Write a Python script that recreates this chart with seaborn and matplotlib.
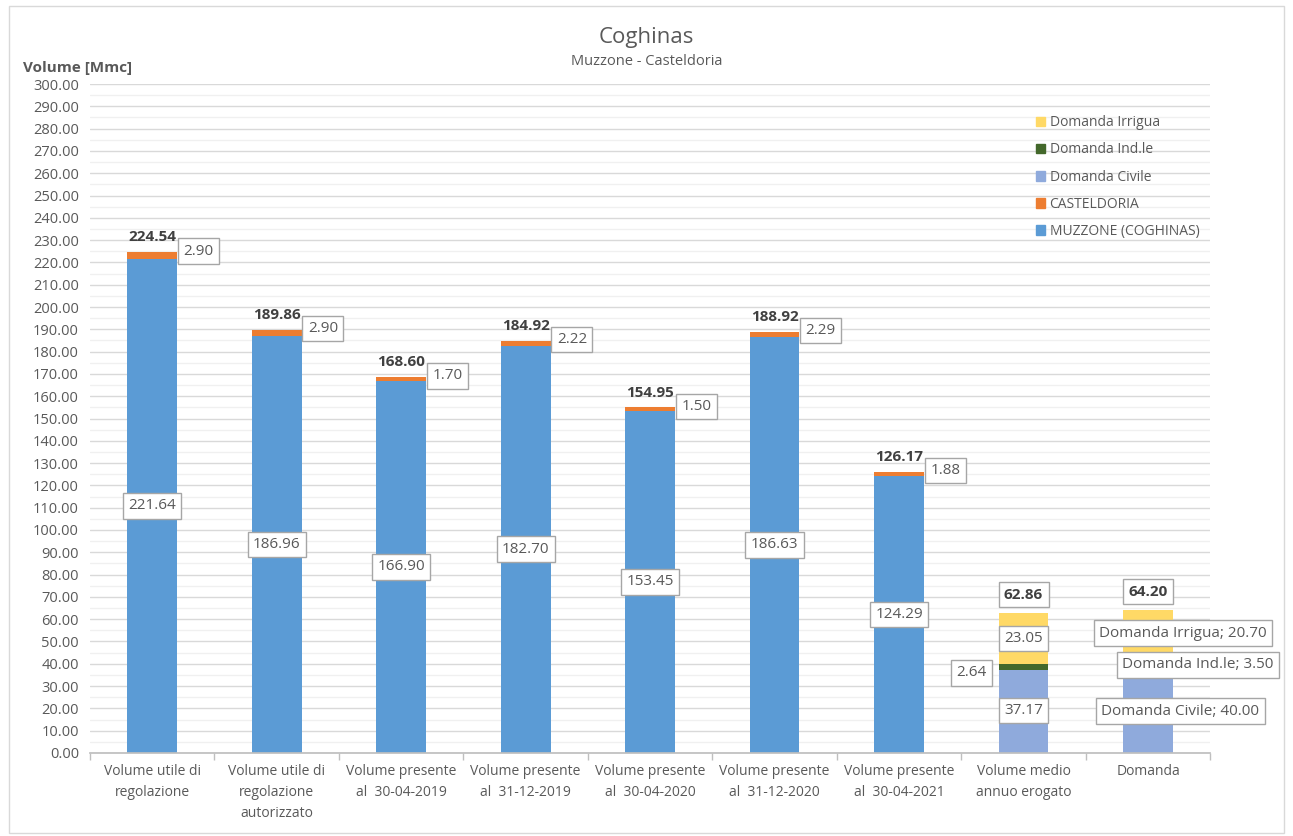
import matplotlib
matplotlib.use("Agg")
import matplotlib.pyplot as plt
import seaborn as sns
import numpy as np
import pandas as pd
from matplotlib.patches import Patch

categories = ["Volume utile di\nregolazione", "Volume utile di\nregolazione\nautorizzato",
              "Volume presente\nal  30-04-2019", "Volume presente\nal  31-12-2019",
              "Volume presente\nal  30-04-2020", "Volume presente\nal  31-12-2020",
              "Volume presente\nal  30-04-2021", "Volume medio\nannuo erogato", "Domanda"]
muzzone = [221.64, 186.96, 166.90, 182.70, 153.45, 186.63, 124.29, 0, 0]
casteldoria = [2.90, 2.90, 1.70, 2.22, 1.50, 2.29, 1.88, 0, 0]
civile = [0, 0, 0, 0, 0, 0, 0, 37.17, 40.00]
industriale = [0, 0, 0, 0, 0, 0, 0, 2.64, 3.50]
irrigua = [0, 0, 0, 0, 0, 0, 0, 23.05, 20.70]
totals = [224.54, 189.86, 168.60, 184.92, 154.95, 188.92, 126.17, 62.86, 64.20]

sns.set_theme(style="white")
plt.rcParams['font.family'] = ['Open Sans', 'DejaVu Sans']
grey = "#595959"

fig = plt.figure(figsize=(12.93, 8.36), dpi=100)
ax = fig.add_axes([0.0696, 0.0993, 0.8664, 0.8002])

c_muz = "#5B9BD5"; c_cas = "#ED7D31"; c_civ = "#8FAADC"; c_ind = "#43682B"; c_irr = "#FFD966"
series = [("MUZZONE (COGHINAS)", muzzone, c_muz), ("CASTELDORIA", casteldoria, c_cas),
          ("Domanda Civile", civile, c_civ), ("Domanda Ind.le", industriale, c_ind),
          ("Domanda Irrigua", irrigua, c_irr)]
bottom = np.zeros(len(categories))
for name, vals, col in series:
    df = pd.DataFrame({"cat": categories, "v": vals})
    sns.barplot(data=df, x="cat", y="v", color=col, bottom=bottom, width=0.4,
                saturation=1, ax=ax, edgecolor="none", linewidth=0, errorbar=None)
    bottom = bottom + np.array(vals)

ax.set_ylim(0, 300)
ax.set_xlim(-0.5, len(categories) - 0.5)
ax.set_yticks(np.arange(0, 301, 10))
ax.set_yticklabels([f"{v:.2f}" for v in np.arange(0, 301, 10)], fontsize=10.5, color=grey)
ax.set_yticks(np.arange(5, 300, 10), minor=True)
ax.grid(axis="y", which="major", color="#D9D9D9", linewidth=1)
ax.grid(axis="y", which="minor", color="#F0F0F0", linewidth=1)
ax.set_axisbelow(True)
ax.tick_params(axis="y", which="both", length=0, pad=8)
ax.set_xticks(range(len(categories)))
ax.set_xticklabels(categories, fontsize=10, color=grey, linespacing=1.55)
ax.set_xticks(np.arange(-0.5, len(categories), 1), minor=True)
ax.tick_params(axis="x", which="major", length=0, pad=8)
ax.tick_params(axis="x", which="minor", length=5, color="#BFBFBF", width=1, bottom=True)
for s in ["top", "right", "left"]:
    ax.spines[s].set_visible(False)
ax.spines["bottom"].set_color("#BFBFBF")
ax.set_xlabel(""); ax.set_ylabel("")

fs = 11
box = dict(boxstyle="square,pad=0.35", fc="white", ec="#A6A6A6", lw=1)
for i in range(7):
    ax.text(i, muzzone[i] / 2, f"{muzzone[i]:.2f}", ha="center", va="center", fontsize=fs, color=grey, bbox=box)
    ax.text(i + 0.25, totals[i] + 0.5, f"{casteldoria[i]:.2f}", ha="left", va="center", fontsize=fs, color=grey, bbox=box)
    ax.text(i, totals[i] + 3.5, f"{totals[i]:.2f}", ha="center", va="bottom", fontsize=fs, color="#404040", fontweight="bold")

# Volume medio annuo erogato
i = 7
ax.text(i, civile[i] / 2 + 0.5, f"{civile[i]:.2f}", ha="center", va="center", fontsize=fs, color=grey, bbox=box)
ax.text(i - 0.3, civile[i] + industriale[i] / 2 - 2.5, f"{industriale[i]:.2f}", ha="right", va="center", fontsize=fs, color=grey, bbox=box)
ax.text(i, civile[i] + industriale[i] + irrigua[i] / 2, f"{irrigua[i]:.2f}", ha="center", va="center", fontsize=fs, color=grey, bbox=box)
ax.text(i, totals[i] + 5, f"{totals[i]:.2f}", ha="center", va="bottom", fontsize=fs, color="#404040", fontweight="bold", bbox=box)
# Domanda
i = 8
ax.text(i + 0.26, 18.8, f"Domanda Civile; {civile[i]:.2f}", ha="center", va="center", fontsize=fs, color=grey, bbox=box)
ax.text(i + 0.4, 39.5, f"Domanda Ind.le; {industriale[i]:.2f}", ha="center", va="center", fontsize=fs, color=grey, bbox=box)
ax.text(i + 0.28, 53.8, f"Domanda Irrigua; {irrigua[i]:.2f}", ha="center", va="center", fontsize=fs, color=grey, bbox=box)
ax.text(i, totals[i] + 5, f"{totals[i]:.2f}", ha="center", va="bottom", fontsize=fs, color="#404040", fontweight="bold", bbox=box)

handles = [Patch(color=col, label=name) for name, _, col in series][::-1]
leg = ax.legend(handles=handles, loc="upper left", bbox_to_anchor=(0.833, 0.972), frameon=False,
                fontsize=10, labelcolor=grey, handlelength=0.7, handleheight=0.7,
                handletextpad=0.3, labelspacing=0.88)

fig.text(0.5, 0.955, "Coghinas", ha="center", va="center", fontsize=16, color=grey)
fig.text(0.5, 0.926, "Muzzone - Casteldoria", ha="center", va="center", fontsize=10.5, color=grey)
fig.text(0.018, 0.919, "Volume [Mmc]", ha="left", va="center", fontsize=11, color=grey, fontweight="bold")

fig.patches.append(plt.Rectangle((0.007, 0.003), 0.986, 0.99, transform=fig.transFigure,
                                 fill=False, ec="#D9D9D9", lw=1))
fig.savefig("out.png", dpi=100, facecolor="white")
